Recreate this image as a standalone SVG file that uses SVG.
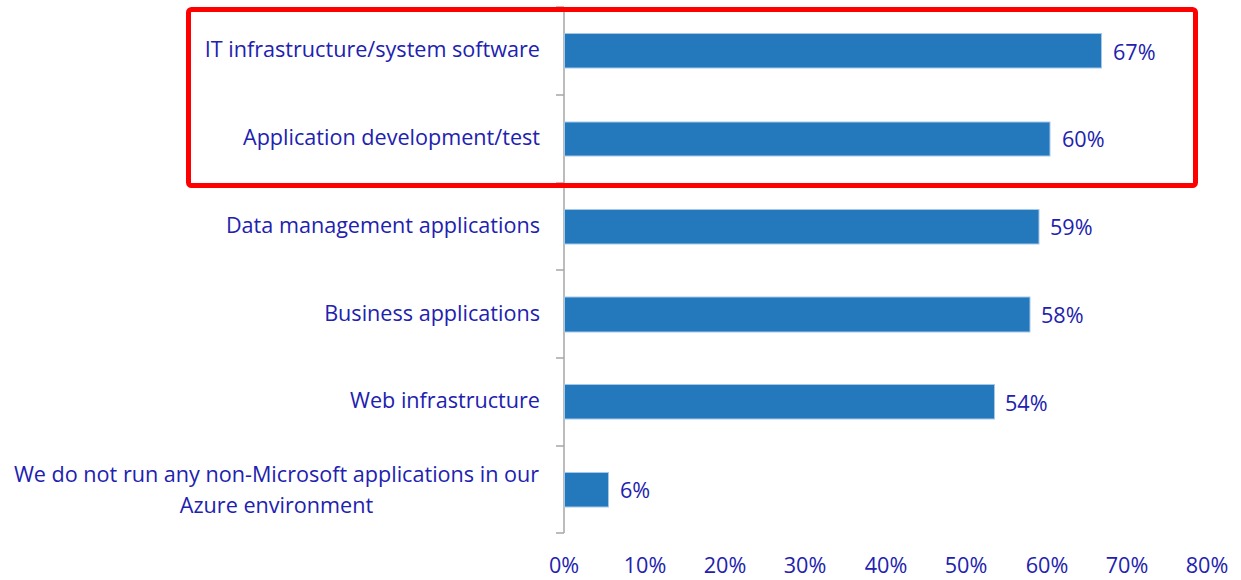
<svg xmlns="http://www.w3.org/2000/svg" width="1241" height="580" viewBox="0 0 1241 580">
<style>
text{font-family:"Open Sans","Noto Sans","Liberation Sans",sans-serif;font-size:21.6px;fill:#2121B0}
.cat{text-anchor:end}
.ax{text-anchor:middle}
.bar{fill:#2479BD;stroke:#A5C8E8;stroke-width:1}
.axis{stroke:#A6A6A6;stroke-width:1.5;fill:none}
</style>
<rect width="1241" height="580" fill="#fff"/>
<g id="axes">
<path class="axis" d="M564 7V533M556 7H564M556 95H564M556 183H564M556 270H564M556 358H564M556 446H564M556 533H564"/>
</g>
<g id="bar-it">
<rect class="bar" x="564.5" y="33.5" width="537" height="34.5"/>
<text class="cat" x="540" y="57">IT infrastructure/system software</text>
<text x="1113" y="60">67%</text>
</g>
<g id="bar-appdev">
<rect class="bar" x="564.5" y="122" width="485.5" height="34"/>
<text class="cat" x="540" y="145">Application development/test</text>
<text x="1062" y="147">60%</text>
</g>
<g id="bar-data">
<rect class="bar" x="564.5" y="209.5" width="474.5" height="34.5"/>
<text class="cat" x="540" y="233">Data management applications</text>
<text x="1050" y="235">59%</text>
</g>
<g id="bar-business">
<rect class="bar" x="564.5" y="297" width="465.5" height="35"/>
<text class="cat" x="540" y="321">Business applications</text>
<text x="1041" y="323">58%</text>
</g>
<g id="bar-web">
<rect class="bar" x="564.5" y="384.5" width="430" height="34.5"/>
<text class="cat" x="540" y="408">Web infrastructure</text>
<text x="1005" y="411">54%</text>
</g>
<g id="bar-none">
<rect class="bar" x="564.5" y="472.5" width="44" height="34.5"/>
<text class="ax" x="276.5" y="482">We do not run any non-Microsoft applications in our</text>
<text class="ax" x="276.5" y="513">Azure environment</text>
<text x="620" y="498">6%</text>
</g>
<g id="x-labels">
<text class="ax" x="564" y="573">0%</text>
<text class="ax" x="645" y="573">10%</text>
<text class="ax" x="725" y="573">20%</text>
<text class="ax" x="805" y="573">30%</text>
<text class="ax" x="886" y="573">40%</text>
<text class="ax" x="966" y="573">50%</text>
<text class="ax" x="1047" y="573">60%</text>
<text class="ax" x="1127" y="573">70%</text>
<text class="ax" x="1207" y="573">80%</text>
</g>
<g id="highlight">
<rect x="188.5" y="9.5" width="1007" height="176" rx="3" fill="none" stroke="#FF0000" stroke-width="5"/>
</g>
</svg>
